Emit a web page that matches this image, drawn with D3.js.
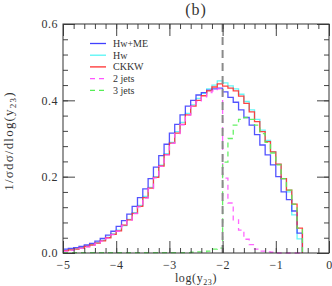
<!DOCTYPE html>
<html><head><meta charset="utf-8">
<script src="https://cdn.jsdelivr.net/npm/d3@7"></script>
<style>
body{margin:0;background:#fff;}
svg{display:block;}
text{font-family:"Liberation Serif","DejaVu Serif",serif;fill:#333;}
</style></head>
<body><svg id="c" width="332" height="286"></svg>
<script>
// lower edges of the log(y23) bins (width 0.1)
const binLow = [-5.0,-4.9,-4.8,-4.7,-4.6,-4.5,-4.4,-4.3,-4.2,-4.1,
  -4.0,-3.9,-3.8,-3.7,-3.6,-3.5,-3.4,-3.3,-3.2,-3.1,
  -3.0,-2.9,-2.8,-2.7,-2.6,-2.5,-2.4,-2.3,-2.2,-2.1,
  -2.0,-1.9,-1.8,-1.7,-1.6,-1.5,-1.4,-1.3,-1.2,-1.1,
  -1.0,-0.9,-0.8,-0.7,-0.6];
const binWidth = 0.1;

const hwME = [0.010,0.012,0.014,0.017,0.021,0.025,0.031,0.038,0.047,0.057,
  0.070,0.085,0.102,0.122,0.145,0.168,0.195,0.225,0.255,0.285,
  0.314,0.337,0.362,0.385,0.400,0.414,0.420,0.427,0.430,0.432,
  0.422,0.408,0.395,0.375,0.355,0.335,0.310,0.283,0.257,0.231,
  0.200,0.160,0.140,0.110,0.052];
const hw = [0.007,0.009,0.011,0.014,0.018,0.022,0.027,0.033,0.041,0.050,
  0.060,0.072,0.088,0.106,0.125,0.148,0.172,0.200,0.230,0.260,
  0.290,0.318,0.342,0.366,0.388,0.405,0.418,0.430,0.440,0.451,
  0.446,0.438,0.430,0.416,0.397,0.375,0.350,0.322,0.295,0.265,
  0.232,0.195,0.160,0.100,0.037];
const ckkw = [0.006,0.008,0.010,0.013,0.017,0.021,0.026,0.032,0.040,0.049,
  0.058,0.073,0.087,0.104,0.122,0.145,0.170,0.198,0.228,0.258,
  0.288,0.314,0.337,0.362,0.385,0.400,0.412,0.425,0.435,0.443,
  0.437,0.432,0.425,0.411,0.392,0.370,0.344,0.318,0.292,0.265,
  0.233,0.195,0.165,0.128,0.065];
const jets2 = [0.005,0.007,0.009,0.012,0.016,0.020,0.025,0.031,0.039,0.048,
  0.057,0.072,0.086,0.103,0.121,0.144,0.169,0.197,0.227,0.257,
  0.287,0.313,0.336,0.361,0.384,0.397,0.409,0.420,0.425,0.430,
  0.196,0.131,0.087,0.060,0.036,0.022,0.010,0.005,0.003,0.002,
  0,0,0,0,0];
const jets3 = [0.001,0.001,0.001,0.001,0.001,0.001,0.001,0.001,0.001,0.001,
  0.001,0.001,0.001,0.001,0.001,0.001,0.001,0.001,0.001,0.001,
  0.001,0.001,0.001,0.001,0.002,0.003,0.003,0.005,0.010,0.013,
  0.238,0.300,0.335,0.350,0.355,0.350,0.335,0.313,0.290,0.262,
  0.231,0.195,0.165,0.128,0.065];

const xTicks = [-5,-4,-3,-2,-1,0];
const yTicks = [0,0.2,0.4,0.6];
const xMinor = d3.range(-5,0.0001,0.2);
const yMinor = d3.range(0,0.6001,0.04);
const ycutLog = -2;

const series = [
  {name:"Hw+ME", vals:hwME, color:"#4040ff", dash:null},
  {name:"Hw", vals:hw, color:"#55f5f5", dash:null},
  {name:"CKKW", vals:ckkw, color:"#ff3030", dash:null},
  {name:"2 jets", vals:jets2, color:"#ff55ff", dash:"5,4"},
  {name:"3 jets", vals:jets3, color:"#55ee55", dash:"5,4"}
];

const svg = d3.select("#c");
const L=63,R=329,T=24,B=253;
const x = d3.scaleLinear().domain([-5,0]).range([L,R]);
const y = d3.scaleLinear().domain([0,0.6]).range([B,T]);

const line = d3.line().x(d=>x(d[0])).y(d=>y(d[1])).curve(d3.curveStepAfter);
function pts(vals){
  const p = binLow.map((b,i)=>[b,vals[i]]);
  const end = binLow[binLow.length-1]+binWidth;
  p.push([end,vals[vals.length-1]]);
  p.push([end,0]);
  return p;
}
const drawOrder = [1,0,2,3,4];
drawOrder.forEach(i=>{
  const s = series[i];
  svg.append("path").attr("d", line(pts(s.vals)))
    .attr("fill","none").attr("stroke",s.color).attr("stroke-width",1.3)
    .attr("stroke-dasharray", s.dash).attr("stroke-opacity",0.9);
});

// ycut line
svg.append("line").attr("x1",x(ycutLog)).attr("x2",x(ycutLog)).attr("y1",T).attr("y2",B)
  .attr("stroke","#8a8a8a").attr("stroke-width",2).attr("stroke-dasharray","8,5");

// axes
function styleAxis(g){ g.select(".domain").remove(); g.selectAll("line").attr("stroke","#444"); g.selectAll("text").attr("font-size",12).attr("fill","#333").attr("font-family","Liberation Serif, serif").attr("letter-spacing",0.5); }
const fx = d=> d===0 ? "0" : "\u2212"+Math.abs(d);
svg.append("g").attr("transform",`translate(0,${B})`)
  .call(d3.axisBottom(x).tickValues(xTicks).tickSize(-12).tickPadding(7).tickFormat(fx)).call(styleAxis);
svg.append("g").attr("transform",`translate(0,${B})`)
  .call(d3.axisBottom(x).tickValues(xMinor).tickSize(-5).tickFormat("")).call(styleAxis);
svg.append("g").attr("transform",`translate(0,${T})`)
  .call(d3.axisTop(x).tickValues(xTicks).tickSize(-12).tickFormat("")).call(styleAxis);
svg.append("g").attr("transform",`translate(0,${T})`)
  .call(d3.axisTop(x).tickValues(xMinor).tickSize(-5).tickFormat("")).call(styleAxis);
svg.append("g").attr("transform",`translate(${L},0)`)
  .call(d3.axisLeft(y).tickValues(yTicks).tickSize(-12).tickPadding(5).tickFormat(d3.format(".1f"))).call(styleAxis);
svg.append("g").attr("transform",`translate(${L},0)`)
  .call(d3.axisLeft(y).tickValues(yMinor).tickSize(-5).tickFormat("")).call(styleAxis);
svg.append("g").attr("transform",`translate(${R},0)`)
  .call(d3.axisRight(y).tickValues(yTicks).tickSize(-12).tickFormat("")).call(styleAxis);
svg.append("g").attr("transform",`translate(${R},0)`)
  .call(d3.axisRight(y).tickValues(yMinor).tickSize(-5).tickFormat("")).call(styleAxis);

svg.append("rect").attr("x",L).attr("y",T).attr("width",R-L).attr("height",B-T)
  .attr("fill","none").attr("stroke","#333").attr("stroke-width",1);

// legend
const leg = svg.append("g");
series.forEach((s,i)=>{
  const yy = 43.5 + i*11.7;
  leg.append("line").attr("x1",90).attr("x2",106).attr("y1",yy).attr("y2",yy)
    .attr("stroke",s.color).attr("stroke-width",1.3).attr("stroke-dasharray",s.dash);
  leg.append("text").attr("x",113).attr("y",yy+3.3).attr("font-size",10).text(s.name);
});

// titles
svg.append("text").attr("x",196).attr("y",15).attr("text-anchor","middle").attr("font-size",16).attr("letter-spacing",1).text("(b)");
const xt = svg.append("text").attr("x",196).attr("y",282).attr("text-anchor","middle").attr("font-size",12).attr("letter-spacing",0.6);
xt.append("tspan").text("log(y");
xt.append("tspan").attr("font-size",8).attr("dy",3).text("23");
xt.append("tspan").attr("dy",-3).text(")");
const yt = svg.append("text").attr("transform","translate(13,141) rotate(-90)").attr("text-anchor","middle").attr("font-size",13).attr("letter-spacing",1.2);
yt.append("tspan").text("1/\u03c3d\u03c3/dlog(y");
yt.append("tspan").attr("font-size",9).attr("dy",3).text("23");
yt.append("tspan").attr("dy",-3).text(")");
</script></body></html>
